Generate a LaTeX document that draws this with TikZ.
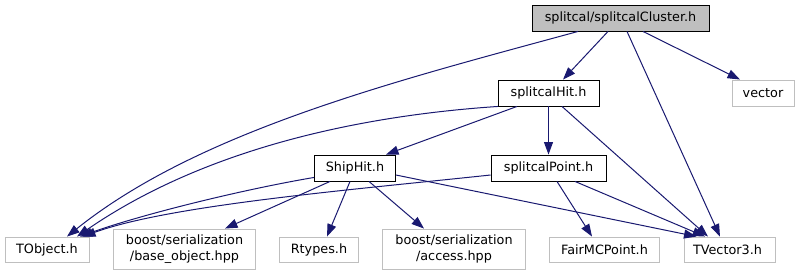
\documentclass[tikz,border=0pt]{standalone}
\usepackage{fontspec}
\setmainfont{DejaVu Sans}
\usetikzlibrary{arrows.meta}

\begin{document}
\begin{tikzpicture}[x=1pt,y=-1pt]
    \definecolor{kante}{HTML}{191970}
    \definecolor{grau}{HTML}{BFBFBF}
    \tikzset{
      datei/.style={draw=black, fill=white, line width=0.9pt, inner sep=0pt, align=center,
        font=\fontsize{12.8}{15.6}\selectfont},  %eigene Header
      haupt/.style={datei, fill=grau},  %Ausgangsdatei
      extern/.style={datei, draw=grau},  %externe Header
      dep/.style={draw=kante, line width=1pt, -{Triangle[length=12.5pt,width=9pt]}}
    }
    \useasboundingbox (0,0) rectangle (800,276);
    \foreach \name/\x/\y/\w/\h/\stil/\text in
    {
      cluster/620.5/18/177/26/haupt/{splitcal/splitcalCluster.h},  %\x,\y ist Mitte der Box
      hit/548.5/93/101/26/datei/{splitcalHit.h},
      vector/763/93/62/26/extern/{vector},
      shiphit/355/168/81/26/datei/{ShipHit.h},
      point/548.5/168/115/26/datei/{splitcalPoint.h},
      tobject/47/249.5/84/25/extern/{TObject.h},
      baseobj/184.5/249/142/40/extern/{boost/serialization\\/base\_object.hpp},
      rtypes/319/249.5/79/25/extern/{Rtypes.h},
      access/454/249/143/40/extern/{boost/serialization\\/access.hpp},
      fairmc/604.5/249.5/110/25/extern/{FairMCPoint.h},
      tvec/729.5/249.5/91/25/extern/{TVector3.h}
    }
    {
      \node[\stil, minimum width=\w pt, minimum height=\h pt] (\name) at (\x,\y) {\text};
    };
    %Abhaengigkeiten von splitcalCluster.h
    \draw[dep] ([xshift=-12.5pt]cluster.south) -- ([xshift=14.5pt]hit.north);
    \draw[dep] ([xshift=-42.5pt]cluster.south) .. controls (400,80) and (200,130) .. ([xshift=20pt]tobject.north);
    \draw[dep] ([xshift=6.5pt]cluster.south) -- ([xshift=-9.5pt]tvec.north);
    \draw[dep] ([xshift=22.5pt]cluster.south) -- ([xshift=-23pt]vector.north);
    %splitcalHit.h
    \draw[dep] ([xshift=0.5pt]hit.south west) .. controls (370,115) and (210,145) .. ([xshift=30pt]tobject.north);
    \draw[dep] ([xshift=-31.5pt]hit.south) -- ([xshift=31pt]shiphit.north);
    \draw[dep] (hit) -- (point);
    \draw[dep] ([xshift=13.5pt]hit.south) -- ([xshift=-21.5pt]tvec.north);
    %ShipHit.h
    \draw[dep] ([yshift=4pt]shiphit.south west) .. controls (240,190) and (140,215) .. ([xshift=33pt]tobject.north);
    \draw[dep] ([xshift=-25pt]shiphit.south) -- ([xshift=40.5pt]baseobj.north);
    \draw[dep] ([xshift=-5pt]shiphit.south) -- ([xshift=8pt]rtypes.north);
    \draw[dep] ([xshift=14pt]shiphit.south) -- ([xshift=-30pt]access.north);
    \draw[dep] ([yshift=-7pt]shiphit.east) -- ([xshift=-33pt]tvec.north);
    %splitcalPoint.h
    \draw[dep] ([yshift=-7pt]point.west) .. controls (350,190) and (170,205) .. ([xshift=36pt]tobject.north);
    \draw[dep] ([xshift=8.5pt]point.south) -- ([xshift=-12.5pt]fairmc.north);
    \draw[dep] ([xshift=26.5pt]point.south) -- ([xshift=-24.5pt]tvec.north);
\end{tikzpicture}
\end{document}
